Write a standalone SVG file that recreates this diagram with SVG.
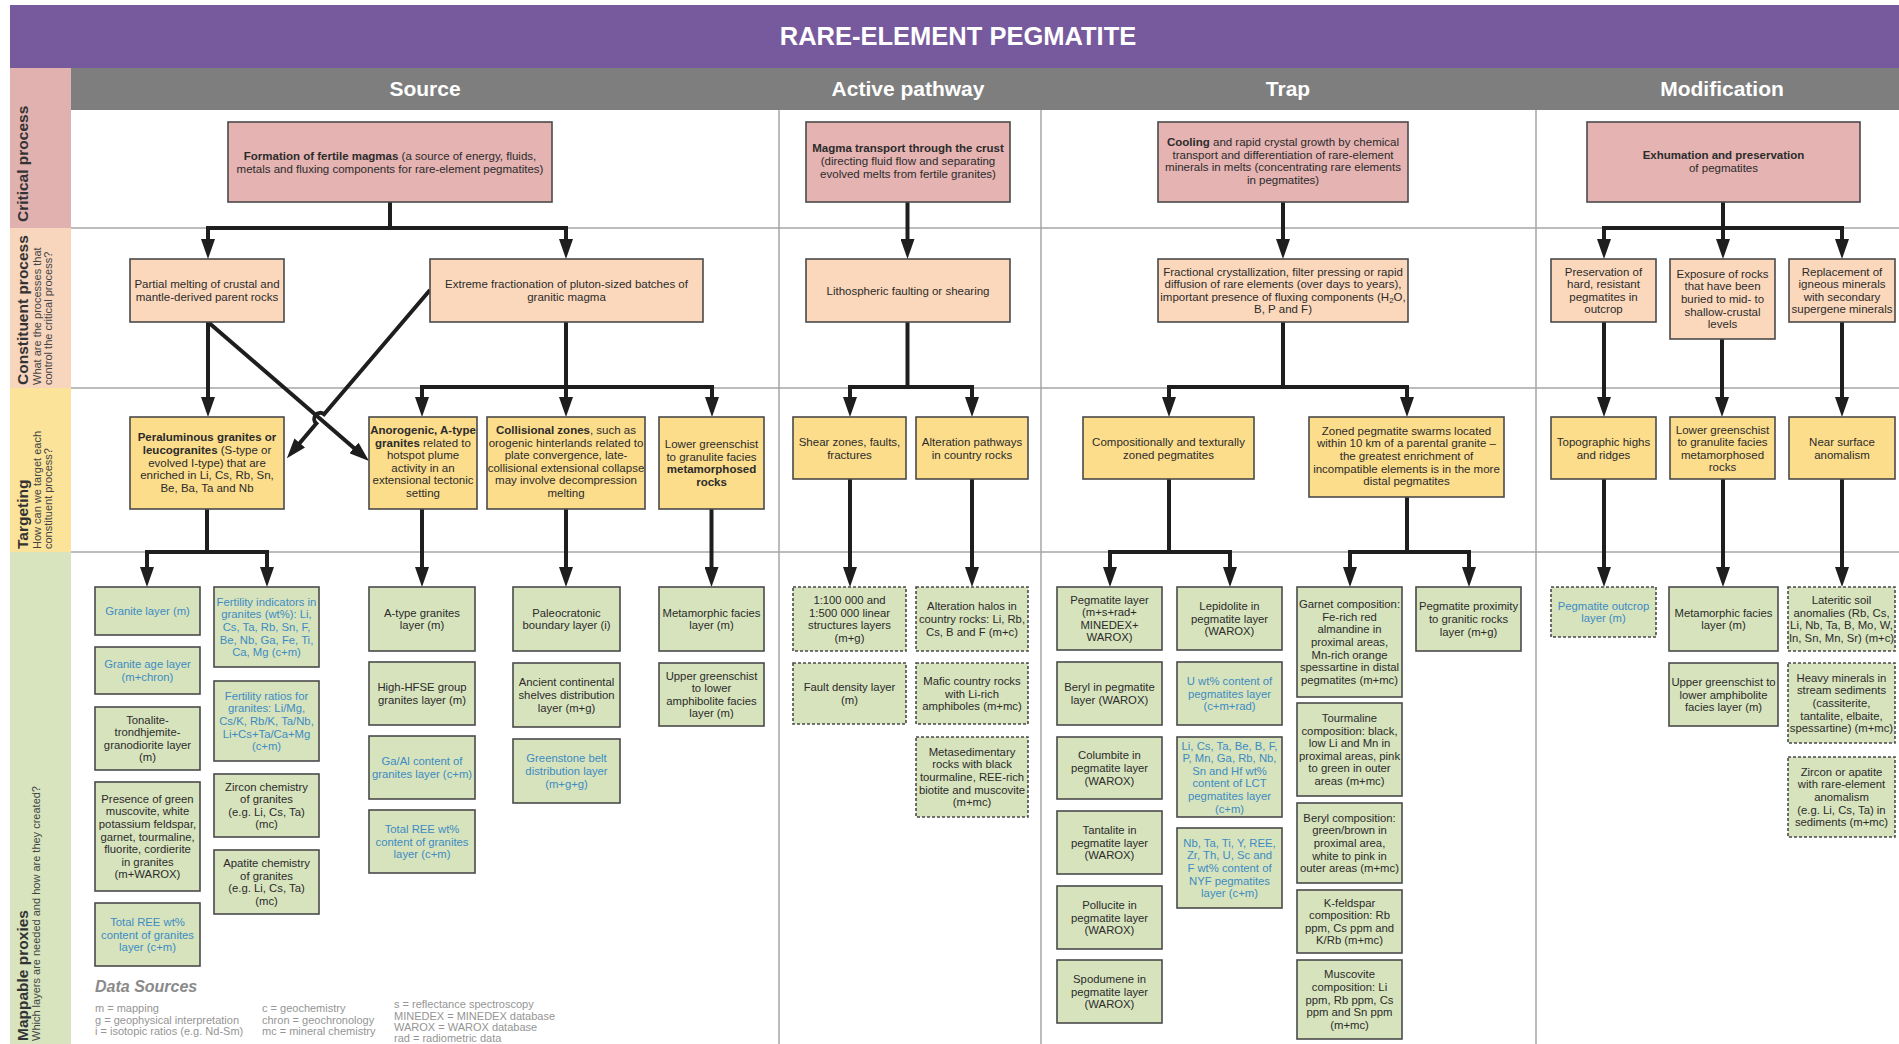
<svg xmlns="http://www.w3.org/2000/svg" width="1899" height="1044" viewBox="0 0 1899 1044">
<style>
text{font-family:"Liberation Sans",Arial,Helvetica,sans-serif}
.bx{stroke:#4a4a4a;stroke-width:1.6}
.cp{fill:#E4B3B2}.cs{fill:#FBD8BB}.tg{fill:#FCDD8C}.mp{fill:#D7E3BD}
.ds{stroke-dasharray:3 2}
.t{font-size:11.5px;fill:#2b2b2b;text-anchor:middle}
.m{font-size:11.3px;fill:#2b2b2b;text-anchor:middle}
.bl{fill:#3D8CC2}
.k{font-weight:bold}
.cn{fill:none;stroke:#1e1e1e;stroke-width:4}
.grid{stroke:#a6a6a6;stroke-width:1.5}
.sb{font-size:15.5px;font-weight:bold;fill:#333}
.ss{font-size:11px;fill:#444}
.hd{font-size:21px;font-weight:bold;fill:#fff;text-anchor:middle}
.lg{font-size:11px;fill:#959595}
</style>
<defs>
<marker id="ah" viewBox="0 0 20 14" markerWidth="20" markerHeight="14" refX="2" refY="7" orient="auto-start-reverse" markerUnits="userSpaceOnUse">
<path d="M0,0 L20,7 L0,14 z" fill="#1e1e1e"/>
</marker>
</defs>
<rect width="1899" height="1044" fill="#fff"/>

<!-- title and stage headers -->
<g id="title">
<rect x="10" y="5" width="1889" height="63" fill="#77599D"/>
<text x="958" y="45" font-size="25.5" font-weight="bold" fill="#fff" text-anchor="middle">RARE-ELEMENT PEGMATITE</text>
</g>
<g id="stages">
<rect x="71" y="68" width="1828" height="42" fill="#7E7E7E"/>
<text class="hd" x="425" y="96">Source</text>
<text class="hd" x="908" y="96">Active pathway</text>
<text class="hd" x="1288" y="96">Trap</text>
<text class="hd" x="1722" y="96">Modification</text>
</g>

<!-- row labels -->
<g id="rows">
<rect x="10" y="68" width="61" height="160" fill="#E1B1B0"/>
<rect x="10" y="228" width="61" height="160" fill="#F8D6BE"/>
<rect x="10" y="388" width="61" height="164" fill="#FBE39A"/>
<rect x="10" y="552" width="61" height="492" fill="#D8E4BE"/>
<text class="sb" transform="translate(28,222) rotate(-90)">Critical process</text>
<text class="sb" transform="translate(28,385) rotate(-90)">Constituent process</text>
<text class="ss" transform="translate(41,385) rotate(-90)">What are the processes that</text>
<text class="ss" transform="translate(52,385) rotate(-90)">control the critical process?</text>
<text class="sb" transform="translate(28,549) rotate(-90)">Targeting</text>
<text class="ss" transform="translate(41,549) rotate(-90)">How can we target each</text>
<text class="ss" transform="translate(52,549) rotate(-90)">constituent process?</text>
<text class="sb" transform="translate(28,1041) rotate(-90)">Mappable proxies</text>
<text class="ss" transform="translate(40,1041) rotate(-90)">Which layers are needed and how are they created?</text>
</g>

<!-- grid lines -->
<g id="grid" class="grid">
<line x1="71" y1="228" x2="1899" y2="228"/>
<line x1="71" y1="388" x2="1899" y2="388"/>
<line x1="71" y1="552" x2="1899" y2="552"/>
<line x1="779" y1="110" x2="779" y2="1044"/>
<line x1="1041" y1="110" x2="1041" y2="1044"/>
<line x1="1536" y1="110" x2="1536" y2="1044"/>
</g>

<!-- connectors -->
<g id="connectors" class="cn">
<path d="M390,202 V228"/>
<path d="M208,241 V228 H566 V241" marker-start="url(#ah)" marker-end="url(#ah)"/>
<path d="M208,322 V399" marker-end="url(#ah)"/>
<path d="M208,322 L355.4,449.2" marker-end="url(#ah)"/>
<path d="M430,290 L324.1,414.3 A6,6 0 0 0 316.3,423.5 L298.5,444.5" marker-end="url(#ah)"/>
<path d="M566,322 V399" marker-end="url(#ah)"/>
<path d="M422,399 V387 H712 V399" marker-start="url(#ah)" marker-end="url(#ah)"/>
<path d="M907.5,202 V241" marker-end="url(#ah)"/>
<path d="M907.5,322 V387"/>
<path d="M850,399 V387 H972 V399" marker-start="url(#ah)" marker-end="url(#ah)"/>
<path d="M1283,202 V241" marker-end="url(#ah)"/>
<path d="M1283,322 V387"/>
<path d="M1169,399 V387 H1407 V399" marker-start="url(#ah)" marker-end="url(#ah)"/>
<path d="M1723,202 V241" marker-end="url(#ah)"/>
<path d="M1604,241 V228 H1842 V241" marker-start="url(#ah)" marker-end="url(#ah)"/>
<path d="M1604,322 V399" marker-end="url(#ah)"/>
<path d="M1722,339 V399" marker-end="url(#ah)"/>
<path d="M1842,322 V399" marker-end="url(#ah)"/>
<path d="M207,509 V552"/>
<path d="M147,569 V552 H267 V569" marker-start="url(#ah)" marker-end="url(#ah)"/>
<path d="M422,509 V569" marker-end="url(#ah)"/>
<path d="M566,509 V569" marker-end="url(#ah)"/>
<path d="M711.5,509 V569" marker-end="url(#ah)"/>
<path d="M850,479 V569" marker-end="url(#ah)"/>
<path d="M972,479 V569" marker-end="url(#ah)"/>
<path d="M1169,479 V552"/>
<path d="M1110,569 V552 H1230 V569" marker-start="url(#ah)" marker-end="url(#ah)"/>
<path d="M1407,497 V552"/>
<path d="M1350,569 V552 H1469 V569" marker-start="url(#ah)" marker-end="url(#ah)"/>
<path d="M1604,479 V569" marker-end="url(#ah)"/>
<path d="M1723,479 V569" marker-end="url(#ah)"/>
<path d="M1842,479 V569" marker-end="url(#ah)"/>
</g>

<!-- critical process -->
<g id="cp-fertile-magmas"><rect class="bx cp" x="228" y="122" width="324" height="80"/>
<text class="t"><tspan x="390" y="160"><tspan class="k">Formation of fertile magmas</tspan> (a source of energy, fluids,</tspan><tspan x="390" y="172.6">metals and fluxing components for rare-element pegmatites)</tspan></text></g>
<g id="cp-magma-transport"><rect class="bx cp" x="806" y="122" width="204" height="80"/>
<text class="t"><tspan class="k" x="908" y="152.4">Magma transport through the crust</tspan><tspan x="908" y="165">(directing fluid flow and separating</tspan><tspan x="908" y="177.6">evolved melts from fertile granites)</tspan></text></g>
<g id="cp-cooling"><rect class="bx cp" x="1158" y="122" width="250" height="80"/>
<text class="t"><tspan x="1283" y="146.1"><tspan class="k">Cooling</tspan> and rapid crystal growth by chemical</tspan><tspan x="1283" y="158.7">transport and differentiation of rare-element</tspan><tspan x="1283" y="171.3">minerals in melts (concentrating rare elements</tspan><tspan x="1283" y="183.9">in pegmatites)</tspan></text></g>
<g id="cp-exhumation"><rect class="bx cp" x="1587" y="122" width="273" height="80"/>
<text class="t"><tspan class="k" x="1723.5" y="159">Exhumation and preservation</tspan><tspan x="1723.5" y="171.6">of pegmatites</tspan></text></g>

<!-- constituent processes -->
<g id="cs-partial-melting"><rect class="bx cs" x="130" y="259" width="154" height="63"/>
<text class="t"><tspan x="207" y="288.2">Partial melting of crustal and</tspan><tspan x="207" y="300.8">mantle-derived parent rocks</tspan></text></g>
<g id="cs-fractionation"><rect class="bx cs" x="430" y="259" width="273" height="63"/>
<text class="t"><tspan x="566.5" y="288.2">Extreme fractionation of pluton-sized batches of</tspan><tspan x="566.5" y="300.8">granitic magma</tspan></text></g>
<g id="cs-faulting"><rect class="bx cs" x="806" y="259" width="204" height="63"/>
<text class="t" x="908" y="294.5">Lithospheric faulting or shearing</text></g>
<g id="cs-crystallization"><rect class="bx cs" x="1158" y="259" width="250" height="63"/>
<text class="t"><tspan x="1283" y="275.6">Fractional crystallization, filter pressing or rapid</tspan><tspan x="1283" y="288.2">diffusion of rare elements (over days to years),</tspan><tspan x="1283" y="300.8">important presence of fluxing components (H<tspan dy="2" font-size="8">2</tspan><tspan dy="-2">O,</tspan></tspan><tspan x="1283" y="313.4">B, P and F)</tspan></text></g>
<g id="cs-preservation"><rect class="bx cs" x="1551" y="259" width="105" height="63"/>
<text class="t"><tspan x="1603.5" y="275.6">Preservation of</tspan><tspan x="1603.5" y="288.2">hard, resistant</tspan><tspan x="1603.5" y="300.8">pegmatites in</tspan><tspan x="1603.5" y="313.4">outcrop</tspan></text></g>
<g id="cs-exposure"><rect class="bx cs" x="1670" y="259" width="105" height="80"/>
<text class="t"><tspan x="1722.5" y="277.8">Exposure of rocks</tspan><tspan x="1722.5" y="290.4">that have been</tspan><tspan x="1722.5" y="303">buried to mid- to</tspan><tspan x="1722.5" y="315.6">shallow-crustal</tspan><tspan x="1722.5" y="328.2">levels</tspan></text></g>
<g id="cs-replacement"><rect class="bx cs" x="1789" y="259" width="106" height="63"/>
<text class="t"><tspan x="1842" y="275.6">Replacement of</tspan><tspan x="1842" y="288.2">igneous minerals</tspan><tspan x="1842" y="300.8">with secondary</tspan><tspan x="1842" y="313.4">supergene minerals</tspan></text></g>

<!-- targeting -->
<g id="tg-peraluminous"><rect class="bx tg" x="130" y="417" width="154" height="92"/>
<text class="t"><tspan class="k" x="207" y="441.3">Peraluminous granites or</tspan><tspan x="207" y="453.9"><tspan class="k">leucogranites</tspan> (S-type or</tspan><tspan x="207" y="466.5">evolved I-type) that are</tspan><tspan x="207" y="479.1">enriched in Li, Cs, Rb, Sn,</tspan><tspan x="207" y="491.7">Be, Ba, Ta and Nb</tspan></text></g>
<g id="tg-anorogenic"><rect class="bx tg" x="369" y="417" width="108" height="92"/>
<text class="t"><tspan class="k" x="423" y="434">Anorogenic, A-type</tspan><tspan x="423" y="446.6"><tspan class="k">granites</tspan> related to</tspan><tspan x="423" y="459.2">hotspot plume</tspan><tspan x="423" y="471.8">activity in an</tspan><tspan x="423" y="484.4">extensional tectonic</tspan><tspan x="423" y="497">setting</tspan></text></g>
<g id="tg-collisional"><rect class="bx tg" x="487" y="417" width="158" height="92"/>
<text class="t"><tspan x="566" y="434"><tspan class="k">Collisional zones</tspan>, such as</tspan><tspan x="566" y="446.6">orogenic hinterlands related to</tspan><tspan x="566" y="459.2">plate convergence, late-</tspan><tspan x="566" y="471.8">collisional extensional collapse</tspan><tspan x="566" y="484.4">may involve decompression</tspan><tspan x="566" y="497">melting</tspan></text></g>
<g id="tg-metamorphosed-src"><rect class="bx tg" x="659" y="417" width="105" height="92"/>
<text class="t"><tspan x="711.5" y="448.1">Lower greenschist</tspan><tspan x="711.5" y="460.7">to granulite facies</tspan><tspan class="k" x="711.5" y="473.3">metamorphosed</tspan><tspan class="k" x="711.5" y="485.9">rocks</tspan></text></g>
<g id="tg-shear"><rect class="bx tg" x="793" y="417" width="113" height="62"/>
<text class="t"><tspan x="849.5" y="446">Shear zones, faults,</tspan><tspan x="849.5" y="458.6">fractures</tspan></text></g>
<g id="tg-alteration"><rect class="bx tg" x="916" y="417" width="112" height="62"/>
<text class="t"><tspan x="972" y="446">Alteration pathways</tspan><tspan x="972" y="458.6">in country rocks</tspan></text></g>
<g id="tg-zoned"><rect class="bx tg" x="1083" y="417" width="171" height="62"/>
<text class="t"><tspan x="1168.5" y="446">Compositionally and texturally</tspan><tspan x="1168.5" y="458.6">zoned pegmatites</tspan></text></g>
<g id="tg-swarms"><rect class="bx tg" x="1309" y="417" width="195" height="80"/>
<text class="t"><tspan x="1406.5" y="434.8">Zoned pegmatite swarms located</tspan><tspan x="1406.5" y="447.4">within 10 km of a parental granite –</tspan><tspan x="1406.5" y="460">the greatest enrichment of</tspan><tspan x="1406.5" y="472.6">incompatible elements is in the more</tspan><tspan x="1406.5" y="485.2">distal pegmatites</tspan></text></g>
<g id="tg-topographic"><rect class="bx tg" x="1551" y="417" width="105" height="62"/>
<text class="t"><tspan x="1603.5" y="446">Topographic highs</tspan><tspan x="1603.5" y="458.6">and ridges</tspan></text></g>
<g id="tg-metamorphosed-mod"><rect class="bx tg" x="1670" y="417" width="105" height="62"/>
<text class="t"><tspan x="1722.5" y="433.6">Lower greenschist</tspan><tspan x="1722.5" y="446.2">to granulite facies</tspan><tspan x="1722.5" y="458.8">metamorphosed</tspan><tspan x="1722.5" y="471.4">rocks</tspan></text></g>
<g id="tg-near-surface"><rect class="bx tg" x="1789" y="417" width="106" height="62"/>
<text class="t"><tspan x="1842" y="446">Near surface</tspan><tspan x="1842" y="458.6">anomalism</tspan></text></g>

<!-- mappable proxies: source -->
<g id="mp-granite"><rect class="bx mp" x="95" y="587" width="105" height="48"/>
<text class="m bl" x="147.5" y="615">Granite layer (m)</text></g>
<g id="mp-granite-age"><rect class="bx mp" x="95" y="647" width="105" height="47"/>
<text class="m bl"><tspan x="147.5" y="668.2">Granite age layer</tspan><tspan x="147.5" y="680.8">(m+chron)</tspan></text></g>
<g id="mp-ttg"><rect class="bx mp" x="95" y="707" width="105" height="63"/>
<text class="m"><tspan x="147.5" y="723.6">Tonalite-</tspan><tspan x="147.5" y="736.2">trondhjemite-</tspan><tspan x="147.5" y="748.8">granodiorite layer</tspan><tspan x="147.5" y="761.4">(m)</tspan></text></g>
<g id="mp-muscovite"><rect class="bx mp" x="95" y="782" width="105" height="109"/>
<text class="m"><tspan x="147.5" y="802.7">Presence of green</tspan><tspan x="147.5" y="815.3">muscovite, white</tspan><tspan x="147.5" y="827.9">potassium feldspar,</tspan><tspan x="147.5" y="840.5">garnet, tourmaline,</tspan><tspan x="147.5" y="853.1">fluorite, cordierite</tspan><tspan x="147.5" y="865.7">in granites</tspan><tspan x="147.5" y="878.3">(m+WAROX)</tspan></text></g>
<g id="mp-ree-a"><rect class="bx mp" x="95" y="903" width="105" height="63"/>
<text class="m bl"><tspan x="147.5" y="925.9">Total REE wt%</tspan><tspan x="147.5" y="938.5">content of granites</tspan><tspan x="147.5" y="951.1">layer (c+m)</tspan></text></g>
<g id="mp-fertility-ind"><rect class="bx mp" x="214" y="587" width="105" height="80"/>
<text class="m bl"><tspan x="266.5" y="605.8">Fertility indicators in</tspan><tspan x="266.5" y="618.4">granites (wt%): Li,</tspan><tspan x="266.5" y="631">Cs, Ta, Rb, Sn, F,</tspan><tspan x="266.5" y="643.6">Be, Nb, Ga, Fe, Ti,</tspan><tspan x="266.5" y="656.2">Ca, Mg (c+m)</tspan></text></g>
<g id="mp-fertility-rat"><rect class="bx mp" x="214" y="681" width="105" height="80"/>
<text class="m bl"><tspan x="266.5" y="699.8">Fertility ratios for</tspan><tspan x="266.5" y="712.4">granites: Li/Mg,</tspan><tspan x="266.5" y="725">Cs/K, Rb/K, Ta/Nb,</tspan><tspan x="266.5" y="737.6">Li+Cs+Ta/Ca+Mg</tspan><tspan x="266.5" y="750.2">(c+m)</tspan></text></g>
<g id="mp-zircon"><rect class="bx mp" x="214" y="774" width="105" height="63"/>
<text class="m"><tspan x="266.5" y="790.6">Zircon chemistry</tspan><tspan x="266.5" y="803.2">of granites</tspan><tspan x="266.5" y="815.8">(e.g. Li, Cs, Ta)</tspan><tspan x="266.5" y="828.4">(mc)</tspan></text></g>
<g id="mp-apatite"><rect class="bx mp" x="214" y="850" width="105" height="64"/>
<text class="m"><tspan x="266.5" y="867.1">Apatite chemistry</tspan><tspan x="266.5" y="879.7">of granites</tspan><tspan x="266.5" y="892.3">(e.g. Li, Cs, Ta)</tspan><tspan x="266.5" y="904.9">(mc)</tspan></text></g>
<g id="mp-atype"><rect class="bx mp" x="369" y="587" width="106" height="64"/>
<text class="m"><tspan x="422" y="616.7">A-type granites</tspan><tspan x="422" y="629.3">layer (m)</tspan></text></g>
<g id="mp-hfse"><rect class="bx mp" x="369" y="662" width="106" height="63"/>
<text class="m"><tspan x="422" y="691.2">High-HFSE group</tspan><tspan x="422" y="703.8">granites layer (m)</tspan></text></g>
<g id="mp-gaal"><rect class="bx mp" x="369" y="736" width="106" height="63"/>
<text class="m bl"><tspan x="422" y="765.2">Ga/Al content of</tspan><tspan x="422" y="777.8">granites layer (c+m)</tspan></text></g>
<g id="mp-ree-c"><rect class="bx mp" x="369" y="810" width="106" height="63"/>
<text class="m bl"><tspan x="422" y="832.9">Total REE wt%</tspan><tspan x="422" y="845.5">content of granites</tspan><tspan x="422" y="858.1">layer (c+m)</tspan></text></g>
<g id="mp-paleocratonic"><rect class="bx mp" x="513" y="587" width="107" height="64"/>
<text class="m"><tspan x="566.5" y="616.7">Paleocratonic</tspan><tspan x="566.5" y="629.3">boundary layer (i)</tspan></text></g>
<g id="mp-shelves"><rect class="bx mp" x="513" y="663" width="107" height="64"/>
<text class="m"><tspan x="566.5" y="686.4">Ancient continental</tspan><tspan x="566.5" y="699">shelves distribution</tspan><tspan x="566.5" y="711.6">layer (m+g)</tspan></text></g>
<g id="mp-greenstone"><rect class="bx mp" x="513" y="739" width="107" height="64"/>
<text class="m bl"><tspan x="566.5" y="762.4">Greenstone belt</tspan><tspan x="566.5" y="775">distribution layer</tspan><tspan x="566.5" y="787.6">(m+g+g)</tspan></text></g>
<g id="mp-facies-src"><rect class="bx mp" x="659" y="587" width="105" height="64"/>
<text class="m"><tspan x="711.5" y="616.7">Metamorphic facies</tspan><tspan x="711.5" y="629.3">layer (m)</tspan></text></g>
<g id="mp-amphibolite-src"><rect class="bx mp" x="659" y="663" width="105" height="63"/>
<text class="m"><tspan x="711.5" y="679.6">Upper greenschist</tspan><tspan x="711.5" y="692.2">to lower</tspan><tspan x="711.5" y="704.8">amphibolite facies</tspan><tspan x="711.5" y="717.4">layer (m)</tspan></text></g>

<!-- mappable proxies: active pathway -->
<g id="mp-linear"><rect class="bx mp ds" x="793" y="587" width="113" height="64"/>
<text class="m"><tspan x="849.5" y="604.1">1:100 000 and</tspan><tspan x="849.5" y="616.7">1:500 000 linear</tspan><tspan x="849.5" y="629.3">structures layers</tspan><tspan x="849.5" y="641.9">(m+g)</tspan></text></g>
<g id="mp-fault-density"><rect class="bx mp ds" x="793" y="663" width="113" height="61"/>
<text class="m"><tspan x="849.5" y="691.2">Fault density layer</tspan><tspan x="849.5" y="703.8">(m)</tspan></text></g>
<g id="mp-halos"><rect class="bx mp ds" x="916" y="587" width="112" height="64"/>
<text class="m"><tspan x="972" y="610.4">Alteration halos in</tspan><tspan x="972" y="623">country rocks: Li, Rb,</tspan><tspan x="972" y="635.6">Cs, B and F (m+c)</tspan></text></g>
<g id="mp-mafic"><rect class="bx mp ds" x="916" y="663" width="112" height="61"/>
<text class="m"><tspan x="972" y="684.9">Mafic country rocks</tspan><tspan x="972" y="697.5">with Li-rich</tspan><tspan x="972" y="710.1">amphiboles (m+mc)</tspan></text></g>
<g id="mp-metasedimentary"><rect class="bx mp ds" x="916" y="737" width="112" height="80"/>
<text class="m"><tspan x="972" y="755.8">Metasedimentary</tspan><tspan x="972" y="768.4">rocks with black</tspan><tspan x="972" y="781">tourmaline, REE-rich</tspan><tspan x="972" y="793.6">biotite and muscovite</tspan><tspan x="972" y="806.2">(m+mc)</tspan></text></g>

<!-- mappable proxies: trap -->
<g id="mp-pegmatite"><rect class="bx mp" x="1057" y="587" width="105" height="63"/>
<text class="m"><tspan x="1109.5" y="603.6">Pegmatite layer</tspan><tspan x="1109.5" y="616.2">(m+s+rad+</tspan><tspan x="1109.5" y="628.8">MINEDEX+</tspan><tspan x="1109.5" y="641.4">WAROX)</tspan></text></g>
<g id="mp-beryl"><rect class="bx mp" x="1057" y="662" width="105" height="63"/>
<text class="m"><tspan x="1109.5" y="691.2">Beryl in pegmatite</tspan><tspan x="1109.5" y="703.8">layer (WAROX)</tspan></text></g>
<g id="mp-columbite"><rect class="bx mp" x="1057" y="737" width="105" height="62"/>
<text class="m"><tspan x="1109.5" y="759.4">Columbite in</tspan><tspan x="1109.5" y="772">pegmatite layer</tspan><tspan x="1109.5" y="784.6">(WAROX)</tspan></text></g>
<g id="mp-tantalite"><rect class="bx mp" x="1057" y="811" width="105" height="63"/>
<text class="m"><tspan x="1109.5" y="833.9">Tantalite in</tspan><tspan x="1109.5" y="846.5">pegmatite layer</tspan><tspan x="1109.5" y="859.1">(WAROX)</tspan></text></g>
<g id="mp-pollucite"><rect class="bx mp" x="1057" y="886" width="105" height="63"/>
<text class="m"><tspan x="1109.5" y="908.9">Pollucite in</tspan><tspan x="1109.5" y="921.5">pegmatite layer</tspan><tspan x="1109.5" y="934.1">(WAROX)</tspan></text></g>
<g id="mp-spodumene"><rect class="bx mp" x="1057" y="960" width="105" height="63"/>
<text class="m"><tspan x="1109.5" y="982.9">Spodumene in</tspan><tspan x="1109.5" y="995.5">pegmatite layer</tspan><tspan x="1109.5" y="1008.1">(WAROX)</tspan></text></g>
<g id="mp-lepidolite"><rect class="bx mp" x="1177" y="587" width="105" height="63"/>
<text class="m"><tspan x="1229.5" y="609.9">Lepidolite in</tspan><tspan x="1229.5" y="622.5">pegmatite layer</tspan><tspan x="1229.5" y="635.1">(WAROX)</tspan></text></g>
<g id="mp-uranium"><rect class="bx mp" x="1177" y="662" width="105" height="63"/>
<text class="m bl"><tspan x="1229.5" y="684.9">U wt% content of</tspan><tspan x="1229.5" y="697.5">pegmatites layer</tspan><tspan x="1229.5" y="710.1">(c+m+rad)</tspan></text></g>
<g id="mp-lct"><rect class="bx mp" x="1177" y="737" width="105" height="80"/>
<text class="m bl"><tspan x="1229.5" y="749.5">Li, Cs, Ta, Be, B, F,</tspan><tspan x="1229.5" y="762.1">P, Mn, Ga, Rb, Nb,</tspan><tspan x="1229.5" y="774.7">Sn and Hf wt%</tspan><tspan x="1229.5" y="787.3">content of LCT</tspan><tspan x="1229.5" y="799.9">pegmatites layer</tspan><tspan x="1229.5" y="812.5">(c+m)</tspan></text></g>
<g id="mp-nyf"><rect class="bx mp" x="1177" y="828" width="105" height="80"/>
<text class="m bl"><tspan x="1229.5" y="846.8">Nb, Ta, Ti, Y, REE,</tspan><tspan x="1229.5" y="859.4">Zr, Th, U, Sc and</tspan><tspan x="1229.5" y="872">F wt% content of</tspan><tspan x="1229.5" y="884.6">NYF pegmatites</tspan><tspan x="1229.5" y="897.2">layer (c+m)</tspan></text></g>
<g id="mp-garnet"><rect class="bx mp" x="1297" y="587" width="105" height="110"/>
<text class="m"><tspan x="1349.5" y="608.2">Garnet composition:</tspan><tspan x="1349.5" y="620.8">Fe-rich red</tspan><tspan x="1349.5" y="633.4">almandine in</tspan><tspan x="1349.5" y="646">proximal areas,</tspan><tspan x="1349.5" y="658.6">Mn-rich orange</tspan><tspan x="1349.5" y="671.2">spessartine in distal</tspan><tspan x="1349.5" y="683.8">pegmatites (m+mc)</tspan></text></g>
<g id="mp-tourmaline"><rect class="bx mp" x="1297" y="703" width="105" height="93"/>
<text class="m"><tspan x="1349.5" y="722">Tourmaline</tspan><tspan x="1349.5" y="734.6">composition: black,</tspan><tspan x="1349.5" y="747.2">low Li and Mn in</tspan><tspan x="1349.5" y="759.8">proximal areas, pink</tspan><tspan x="1349.5" y="772.4">to green in outer</tspan><tspan x="1349.5" y="785">areas (m+mc)</tspan></text></g>
<g id="mp-beryl-comp"><rect class="bx mp" x="1297" y="803" width="105" height="80"/>
<text class="m"><tspan x="1349.5" y="821.8">Beryl composition:</tspan><tspan x="1349.5" y="834.4">green/brown in</tspan><tspan x="1349.5" y="847">proximal area,</tspan><tspan x="1349.5" y="859.6">white to pink in</tspan><tspan x="1349.5" y="872.2">outer areas (m+mc)</tspan></text></g>
<g id="mp-kfeldspar"><rect class="bx mp" x="1297" y="890" width="105" height="63"/>
<text class="m"><tspan x="1349.5" y="906.6">K-feldspar</tspan><tspan x="1349.5" y="919.2">composition: Rb</tspan><tspan x="1349.5" y="931.8">ppm, Cs ppm and</tspan><tspan x="1349.5" y="944.4">K/Rb (m+mc)</tspan></text></g>
<g id="mp-muscovite-comp"><rect class="bx mp" x="1297" y="960" width="105" height="79"/>
<text class="m"><tspan x="1349.5" y="978.3">Muscovite</tspan><tspan x="1349.5" y="990.9">composition: Li</tspan><tspan x="1349.5" y="1003.5">ppm, Rb ppm, Cs</tspan><tspan x="1349.5" y="1016.1">ppm and Sn ppm</tspan><tspan x="1349.5" y="1028.7">(m+mc)</tspan></text></g>
<g id="mp-proximity"><rect class="bx mp" x="1416" y="587" width="105" height="64"/>
<text class="m"><tspan x="1468.5" y="610.4">Pegmatite proximity</tspan><tspan x="1468.5" y="623">to granitic rocks</tspan><tspan x="1468.5" y="635.6">layer (m+g)</tspan></text></g>

<!-- mappable proxies: modification -->
<g id="mp-outcrop"><rect class="bx mp ds" x="1551" y="587" width="105" height="50"/>
<text class="m bl"><tspan x="1603.5" y="609.7">Pegmatite outcrop</tspan><tspan x="1603.5" y="622.3">layer (m)</tspan></text></g>
<g id="mp-facies-mod"><rect class="bx mp" x="1669" y="587" width="109" height="64"/>
<text class="m"><tspan x="1723.5" y="616.7">Metamorphic facies</tspan><tspan x="1723.5" y="629.3">layer (m)</tspan></text></g>
<g id="mp-amphibolite-mod"><rect class="bx mp" x="1669" y="663" width="109" height="63"/>
<text class="m"><tspan x="1723.5" y="685.9">Upper greenschist to</tspan><tspan x="1723.5" y="698.5">lower amphibolite</tspan><tspan x="1723.5" y="711.1">facies layer (m)</tspan></text></g>
<g id="mp-lateritic"><rect class="bx mp ds" x="1788" y="587" width="107" height="64"/>
<text class="m"><tspan x="1841.5" y="604.1">Lateritic soil</tspan><tspan x="1841.5" y="616.7">anomalies (Rb, Cs,</tspan><tspan x="1841.5" y="629.3">Li, Nb, Ta, B, Mo, W,</tspan><tspan x="1841.5" y="641.9">In, Sn, Mn, Sr) (m+c)</tspan></text></g>
<g id="mp-heavy-minerals"><rect class="bx mp ds" x="1788" y="663" width="107" height="80"/>
<text class="m"><tspan x="1841.5" y="681.8">Heavy minerals in</tspan><tspan x="1841.5" y="694.4">stream sediments</tspan><tspan x="1841.5" y="707">(cassiterite,</tspan><tspan x="1841.5" y="719.6">tantalite, elbaite,</tspan><tspan x="1841.5" y="732.2">spessartine) (m+mc)</tspan></text></g>
<g id="mp-zircon-apatite"><rect class="bx mp ds" x="1788" y="757" width="107" height="80"/>
<text class="m"><tspan x="1841.5" y="775.8">Zircon or apatite</tspan><tspan x="1841.5" y="788.4">with rare-element</tspan><tspan x="1841.5" y="801">anomalism</tspan><tspan x="1841.5" y="813.6">(e.g. Li, Cs, Ta) in</tspan><tspan x="1841.5" y="826.2">sediments (m+mc)</tspan></text></g>

<!-- data source key -->
<g id="data-sources">
<text x="95" y="992" font-size="16" font-weight="bold" font-style="italic" fill="#8a8a8a">Data Sources</text>
<text class="lg"><tspan x="95" y="1012">m = mapping</tspan><tspan x="95" y="1023.5">g = geophysical interpretation</tspan><tspan x="95" y="1035">i = isotopic ratios (e.g. Nd-Sm)</tspan></text>
<text class="lg"><tspan x="262" y="1012">c = geochemistry</tspan><tspan x="262" y="1023.5">chron = geochronology</tspan><tspan x="262" y="1035">mc = mineral chemistry</tspan></text>
<text class="lg"><tspan x="394" y="1008">s = reflectance spectroscopy</tspan><tspan x="394" y="1019.5">MINEDEX = MINEDEX database</tspan><tspan x="394" y="1031">WAROX = WAROX database</tspan><tspan x="394" y="1042">rad = radiometric data</tspan></text>
</g>
</svg>
